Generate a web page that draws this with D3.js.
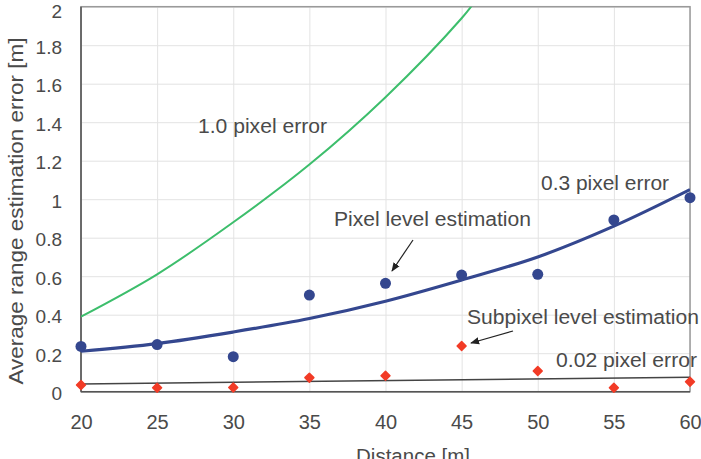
<!DOCTYPE html>
<html>
<head>
<meta charset="utf-8">
<script src="https://cdn.jsdelivr.net/npm/d3@7"></script>
<style>
  body { margin: 0; background: #fff; }
  text { font-family: "Liberation Sans", Arial, sans-serif; fill: #4a4a4a; }
  .grid line { stroke: #e3e3e3; stroke-width: 1; }
</style>
</head>
<body>
<div id="chart"></div>
<script>
// distances sampled in the experiment
var distances = [20, 25, 30, 35, 40, 45, 50, 55, 60];

// measured errors
var pixelLevel    = [0.235, 0.245, 0.182, 0.502, 0.563, 0.606, 0.61, 0.892, 1.008];
var subpixelLevel = [0.035, 0.021, 0.022, 0.073, 0.083, 0.237, 0.108, 0.021, 0.052];

// theoretical error curves, read at each distance
var err10Dist = [20, 25, 30, 35, 40, 45, 46];
var err10     = [0.39, 0.61, 0.88, 1.18, 1.53, 1.94, 2.04];
var err03     = [0.21, 0.25, 0.31, 0.38, 0.47, 0.58, 0.70, 0.86, 1.05];
var err002Dist = [20, 60];
var err002     = [0.04, 0.075];

var xTicks = [20, 25, 30, 35, 40, 45, 50, 55, 60];
var yTicks = [0, 0.2, 0.4, 0.6, 0.8, 1, 1.2, 1.4, 1.6, 1.8, 2];

var margin = {top: 6.7, right: 11, bottom: 67.3, left: 81};
var svgWidth = 701, svgHeight = 459;
var width = svgWidth - margin.left - margin.right;
var height = svgHeight - margin.top - margin.bottom;

var svg = d3.select("#chart").append("svg")
  .attr("width", svgWidth)
  .attr("height", svgHeight);

var g = svg.append("g")
  .attr("transform", "translate(" + margin.left + "," + margin.top + ")");

var xScale = d3.scaleLinear().domain([20, 60]).range([0, width]);
var yScale = d3.scaleLinear().domain([0, 2]).range([height, 0]);

// grid
g.append("g").attr("class", "grid")
  .call(d3.axisBottom(xScale).tickValues(xTicks).tickSize(height).tickFormat(""))
  .call(a => a.select(".domain").remove());
g.append("g").attr("class", "grid")
  .call(d3.axisLeft(yScale).tickValues(yTicks).tickSize(-width).tickFormat(""))
  .call(a => a.select(".domain").remove());

// frame
g.append("rect")
  .attr("width", width).attr("height", height)
  .attr("fill", "none").attr("stroke", "#9a9a9a").attr("stroke-width", 1.5);
g.append("line").attr("x1", 0).attr("x2", 0).attr("y1", 0).attr("y2", height)
  .attr("stroke", "#555").attr("stroke-width", 1.5);
g.append("line").attr("x1", 0).attr("x2", width).attr("y1", height).attr("y2", height)
  .attr("stroke", "#555").attr("stroke-width", 1.5);

// axis labels
var xAxis = g.append("g")
  .attr("transform", "translate(0," + height + ")")
  .call(d3.axisBottom(xScale).tickValues(xTicks).tickSize(0).tickPadding(23));
xAxis.select(".domain").remove();
xAxis.selectAll("text").style("font-size", "20px").attr("fill", "#555");

var yAxis = g.append("g")
  .call(d3.axisLeft(yScale).tickValues(yTicks).tickSize(0).tickPadding(19).tickFormat(d3.format("")));
yAxis.select(".domain").remove();
yAxis.selectAll("text").style("font-size", "19px").attr("fill", "#555")
  .attr("dy", d => d == 2 ? "0.55em" : "0.42em");

svg.append("text")
  .attr("x", 413).attr("y", 463)
  .attr("text-anchor", "middle")
  .style("font-size", "20.5px")
  .text("Distance [m]");

svg.append("text")
  .attr("transform", "translate(23,211) rotate(-90)")
  .attr("text-anchor", "middle")
  .attr("textLength", 347)
  .attr("lengthAdjust", "spacingAndGlyphs")
  .style("font-size", "21px")
  .text("Average range estimation error [m]");

// clip for curves
svg.append("defs").append("clipPath").attr("id", "plotclip")
  .append("rect").attr("width", width).attr("height", height);

var line = d3.line()
  .x(d => xScale(d[0]))
  .y(d => yScale(d[1]))
  .curve(d3.curveCatmullRom);

var curves = g.append("g").attr("clip-path", "url(#plotclip)");

curves.append("path")
  .datum(err10Dist.map((d, i) => [d, err10[i]]))
  .attr("d", line)
  .attr("fill", "none").attr("stroke", "#3dbe6c").attr("stroke-width", 2);

curves.append("path")
  .datum(err002Dist.map((d, i) => [d, err002[i]]))
  .attr("d", line)
  .attr("fill", "none").attr("stroke", "#444").attr("stroke-width", 1.5);

curves.append("path")
  .datum(distances.map((d, i) => [d, err03[i]]))
  .attr("d", line)
  .attr("fill", "none").attr("stroke", "#34478f").attr("stroke-width", 3.2);

// measured points
g.selectAll("circle.pix")
  .data(distances.map((d, i) => [d, pixelLevel[i]]))
  .enter().append("circle")
  .attr("class", "pix")
  .attr("cx", d => xScale(d[0]))
  .attr("cy", d => yScale(d[1]))
  .attr("r", 5.5)
  .attr("fill", "#34478f");

var diamond = d3.symbol().type(d3.symbolSquare).size(40);
g.selectAll("path.sub")
  .data(distances.map((d, i) => [d, subpixelLevel[i]]))
  .enter().append("path")
  .attr("class", "sub")
  .attr("transform", d => "translate(" + xScale(d[0]) + "," + yScale(d[1]) + ") rotate(45)")
  .attr("d", diamond)
  .attr("fill", "#f23b26")
  .attr("stroke", "#f23b26").attr("stroke-width", 1.5).attr("stroke-linejoin", "round");

// annotations
svg.append("defs").append("marker")
  .attr("id", "arrow")
  .attr("viewBox", "0 0 10 10")
  .attr("refX", 9).attr("refY", 5)
  .attr("markerWidth", 9).attr("markerHeight", 9)
  .attr("markerUnits", "userSpaceOnUse")
  .attr("orient", "auto")
  .append("path").attr("d", "M0,1 L10,5 L0,9 Z").attr("fill", "#222");

function note(txt, x, y, w) {
  svg.append("text").attr("x", x).attr("y", y)
    .attr("textLength", w).attr("lengthAdjust", "spacingAndGlyphs")
    .style("font-size", "20px").text(txt);
}
note("1.0 pixel error", 198, 133, 129);
note("0.3 pixel error", 541, 190, 128);
note("Pixel level estimation", 334, 226, 197);
note("Subpixel level estimation", 467, 324, 232);
note("0.02 pixel error", 556, 367, 141);

svg.append("line")
  .attr("x1", 413).attr("y1", 240).attr("x2", 392).attr("y2", 271)
  .attr("stroke", "#222").attr("stroke-width", 1.2).attr("marker-end", "url(#arrow)");
svg.append("line")
  .attr("x1", 513).attr("y1", 331).attr("x2", 471).attr("y2", 343)
  .attr("stroke", "#222").attr("stroke-width", 1.2).attr("marker-end", "url(#arrow)");
</script>
</body>
</html>
